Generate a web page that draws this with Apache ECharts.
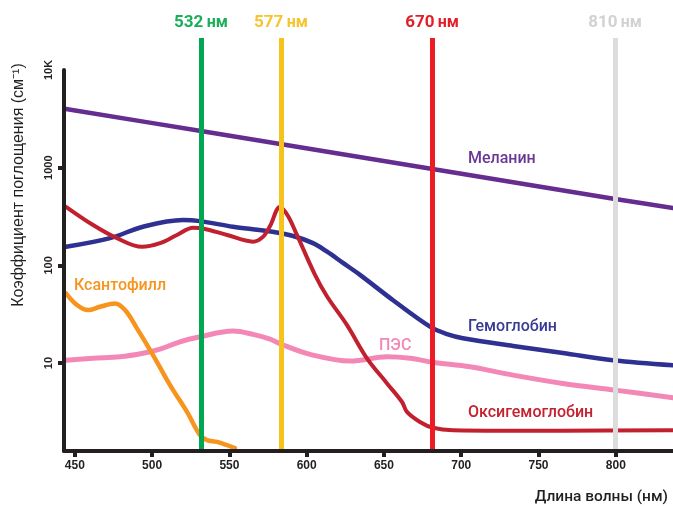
<!DOCTYPE html>
<html>
<head>
<meta charset="utf-8">
<script src="https://cdn.jsdelivr.net/npm/echarts@6/dist/echarts.min.js"></script>
<style>
  html, body { margin: 0; padding: 0; background: #fff; }
  #chart { width: 673px; height: 506px; }
</style>
</head>
<body>
<div id="chart"></div>
<script>
/* 刻度 */
const xTicks = [450, 500, 550, 600, 650, 700, 750, 800]
const yTicks = [10, 100, 1000, 10000]

/* 激光波长: 线的位置按图读出, 文字按图上标注 */
const laserPos = [531.6, 583.4, 681.1, 799.5]
const laserText = ['532', '577', '670', '810']

/* 曲线 [波长 nm, 吸收系数 cm-1] */
const melanin = [[444.3, 3990], [531.6, 2375], [701.1, 862], [799.5, 478], [837, 387]]

const hemoglobin = [
  [444.3, 155], [472.8, 190], [494.1, 249], [520.0, 291], [531.0, 284], [552.3, 249],
  [574.3, 225], [591.2, 200], [604.1, 169], [613.2, 138], [623.5, 106], [634.5, 80],
  [655.9, 44], [679.8, 23.6], [690.8, 19.8], [701.1, 18.0], [733.5, 15.0], [765.8, 12.7],
  [798.2, 10.7], [837, 9.5]
]

const oxyhemoglobin = [
  [444.3, 398], [461.8, 259], [477.3, 190], [493.5, 155], [505.1, 169], [516.1, 205],
  [526.5, 243], [532.9, 239], [548.5, 205], [565.3, 175], [571.7, 196], [576.3, 253],
  [582.7, 396], [587.9, 321], [593.7, 205], [605.4, 80], [613.2, 48], [626.1, 24.5],
  [639.0, 11.2], [652.0, 6.2], [661.7, 4.0], [664.9, 3.17], [673.3, 2.5], [681.7, 2.18],
  [694.7, 2.06], [765.8, 2.03], [837, 2.06]
]

const xanthophyll = [
  [444.3, 51.8], [451.4, 39.3], [458.5, 34.9], [466.3, 37.7], [476.0, 40.8], [482.5, 34.9],
  [490.2, 22.7], [500.6, 12.1], [511.6, 5.96], [522.6, 3.17], [531.0, 1.83], [535.5, 1.63],
  [542.0, 1.56], [553.6, 1.35]
]

const pes = [
  [444.3, 10.7], [461.8, 11.2], [479.2, 11.6], [494.1, 12.6], [505.1, 13.9], [518.0, 16.5],
  [531.0, 18.6], [552.3, 21.3], [565.3, 19.7], [576.3, 17.6], [584.0, 15.5], [602.2, 12.3],
  [628.0, 10.5], [652.0, 11.6], [666.9, 11.2], [681.7, 10.2], [705.7, 9.17], [733.5, 7.53],
  [765.8, 6.19], [799.5, 5.29], [837, 4.42]
]

const INK = '#231f20'
const laserColors = ['#00a651', '#f5c31c', '#ed1c24', '#dcdcdc']
const laserTextColors = ['#1aae58', '#f6c42e', '#e21f27', '#d2d2d2']

const chart = echarts.init(document.getElementById('chart'))

const curve = (name, data, color, width) => ({
  name,
  type: 'line',
  data,
  smooth: 0.35,
  symbol: 'none',
  xAxisIndex: 0,
  yAxisIndex: 0,
  silent: true,
  clip: true,
  z: 2,
  lineStyle: { color, width, cap: 'round', join: 'round' },
  emphasis: { disabled: true }
})

const curveLabel = (text, x, y, color) => ({
  type: 'text',
  x,
  y,
  z: 20,
  style: {
    text,
    fill: color,
    font: '500 16px Roboto',
    align: 'left',
    verticalAlign: 'middle'
  }
})

const option = {
  animation: false,
  backgroundColor: '#fff',
  grid: [
    { left: 64, right: 0, top: 70, bottom: 55, outerBoundsMode: 'none' },
    { left: 64, right: 0, top: 38, bottom: 55, outerBoundsMode: 'none' }
  ],
  xAxis: [
    {
      type: 'value',
      gridIndex: 0,
      min: 443,
      max: 837,
      z: 10,
      axisLine: { show: true, lineStyle: { color: INK, width: 4 } },
      axisTick: { show: true, customValues: xTicks, length: 6, lineStyle: { color: INK, width: 4 } },
      axisLabel: {
        customValues: xTicks,
        color: INK,
        fontSize: 12,
        fontWeight: 'bold',
        fontFamily: 'Liberation Sans',
        margin: 9
      },
      splitLine: { show: false }
    },
    { type: 'value', gridIndex: 1, min: 443, max: 837, show: false }
  ],
  yAxis: [
    {
      type: 'log',
      logBase: 10,
      gridIndex: 0,
      min: 1.26,
      max: 10000,
      z: 10,
      axisLine: { show: true, lineStyle: { color: INK, width: 4 } },
      axisTick: { show: true, customValues: [10, 100, 1000], length: 6, lineStyle: { color: INK, width: 4 } },
      axisLabel: {
        customValues: yTicks,
        rotate: 90,
        color: INK,
        fontSize: 11,
        fontWeight: 'bold',
        fontFamily: 'Liberation Sans',
        margin: 10,
        formatter: (v) => (v >= 10000 ? v / 1000 + 'K' : String(Math.round(v)))
      },
      splitLine: { show: false }
    },
    { type: 'value', gridIndex: 1, min: 0, max: 1, show: false }
  ],
  series: [
    curve('ПЭС', pes, '#f388b7', 5),
    curve('Меланин', melanin, '#652d90', 4.5),
    curve('Гемоглобин', hemoglobin, '#2e3192', 4.5),
    curve('Оксигемоглобин', oxyhemoglobin, '#c1202f', 4),
    curve('Ксантофилл', xanthophyll, '#f7941d', 4.5),
    {
      name: 'lasers',
      type: 'line',
      xAxisIndex: 1,
      yAxisIndex: 1,
      data: [],
      z: 5,
      silent: true,
      markLine: {
        silent: true,
        symbol: ['none', 'none'],
        animation: false,
        data: laserPos.map((v, i) => ({
          xAxis: v,
          lineStyle: { color: laserColors[i], width: 5, type: 'solid' },
          label: {
            show: true,
            position: 'end',
            distance: 7,
            formatter: '{a|' + laserText[i] + '} {b|нм}',
            rich: {
              a: { color: laserTextColors[i], fontSize: 17, fontWeight: 'bold', fontFamily: 'Roboto' },
              b: { color: laserTextColors[i], fontSize: 16, fontWeight: 'bold', fontFamily: 'Roboto' }
            }
          }
        })),
        emphasis: { disabled: true }
      }
    }
  ],
  graphic: [
    {
      type: 'text',
      x: 19,
      y: 185,
      rotation: Math.PI / 2,
      style: {
        text: 'Коэффициент поглощения (см⁻¹)',
        fill: INK,
        font: '16px "Liberation Sans"',
        align: 'center',
        verticalAlign: 'middle'
      }
    },
    {
      type: 'text',
      x: 668,
      y: 497,
      style: {
        text: 'Длина волны (нм)',
        fill: INK,
        font: '500 15.5px Roboto',
        align: 'right',
        verticalAlign: 'middle'
      }
    },
    curveLabel('Меланин', 468, 159, '#6a3795'),
    curveLabel('Гемоглобин', 468, 327, '#383c95'),
    curveLabel('ПЭС', 379, 346, '#f287b8'),
    curveLabel('Оксигемоглобин', 468, 413, '#c4222f'),
    curveLabel('Ксантофилл', 74, 286, '#f7941d')
  ]
}

chart.setOption(option)
</script>
</body>
</html>
